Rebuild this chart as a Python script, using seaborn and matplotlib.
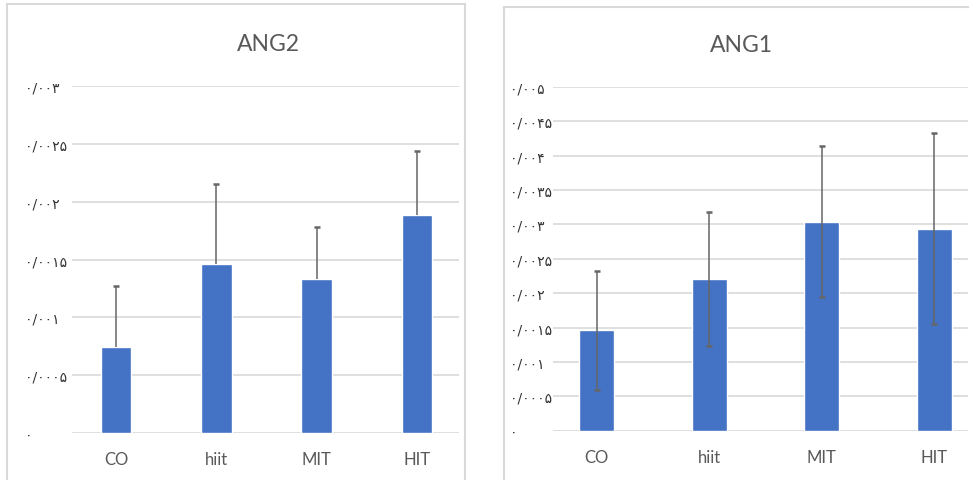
import matplotlib
matplotlib.use("Agg")
import matplotlib.pyplot as plt
import seaborn as sns
import pandas as pd
from matplotlib.patches import Rectangle

groups = ["CO", "hiit", "MIT", "HIT"]

ang2_mean = [0.000745, 0.001457, 0.001328, 0.001888]
ang2_err = [0.000528, 0.000698, 0.000454, 0.000554]
ang2_ticks = [0, 0.0005, 0.001, 0.0015, 0.002, 0.0025, 0.003]

ang1_mean = [0.001458, 0.002211, 0.003038, 0.002940]
ang1_err = [0.000870, 0.000975, 0.001100, 0.001390]
ang1_ticks = [0, 0.0005, 0.001, 0.0015, 0.002, 0.0025, 0.003, 0.0035, 0.004, 0.0045, 0.005]

BAR = "#4472C4"
GRID = "#D9D9D9"
TXT = "#595959"
fa_digits = str.maketrans("0123456789.", "۰۱۲۳۴۵۶۷۸۹/")


def fa_label(v):
    return f"{v:g}".translate(fa_digits)


sns.set_style("white")
plt.rcParams["font.family"] = ["Lato", "DejaVu Sans"]

fig = plt.figure(figsize=(9.7, 4.81), dpi=100)

# panel frames
fig.patches.append(Rectangle((7 / 970, -0.05), 458 / 970, 1.04, transform=fig.transFigure,
                             fill=False, ec=GRID, lw=1.5))
fig.patches.append(Rectangle((504 / 970, -0.05), 480 / 970, 1.033, transform=fig.transFigure,
                             fill=False, ec=GRID, lw=1.5))


def panel(rect, means, errs, ticks, title, title_xy, xlim, width, lower, ypad):
    ax = fig.add_axes(rect)
    df = pd.DataFrame({"group": groups, "value": means})
    sns.barplot(data=df, x="group", y="value", color=BAR, width=width,
                saturation=1, ax=ax)
    yerr = [errs, errs] if lower else [[0] * len(errs), errs]
    eb = ax.errorbar(range(len(groups)), means, yerr=yerr, fmt="none",
                     ecolor="#666666", elinewidth=1.1, capsize=2.5, capthick=1.8)
    if not lower:
        eb[1][0].set_visible(False)
    ax.set_ylim(ticks[0], ticks[-1])
    ax.set_xlim(*xlim)
    ax.set_yticks(ticks)
    ax.set_yticklabels([fa_label(t) for t in ticks], family="DejaVu Sans",
                       fontsize=10, color="#333333", ha="left")
    ax.tick_params(axis="y", length=0, pad=ypad)
    ax.tick_params(axis="x", length=0, pad=13, labelsize=12, labelcolor=TXT)
    ax.yaxis.grid(True, color=GRID, lw=1.2)
    ax.set_axisbelow(True)
    for s in ax.spines.values():
        s.set_visible(False)
    ax.set_xlabel("")
    ax.set_ylabel("")
    fig.text(title_xy[0] / 970, 1 - title_xy[1] / 481, title, ha="center",
             va="center", fontsize=16.5, color=TXT)
    return ax


panel([72 / 970, 47 / 481, 387 / 970, 347 / 481], ang2_mean, ang2_err, ang2_ticks,
      "ANG2", (268, 45), (-0.44, 3.42), 0.306, False, 34)
panel([553 / 970, 49.3 / 481, 415 / 970, 343.7 / 481], ang1_mean, ang1_err, ang1_ticks,
      "ANG1", (741, 46), (-0.39, 3.30), 0.31, True, 31)

fig.savefig("out.png", dpi=100, facecolor="white")
